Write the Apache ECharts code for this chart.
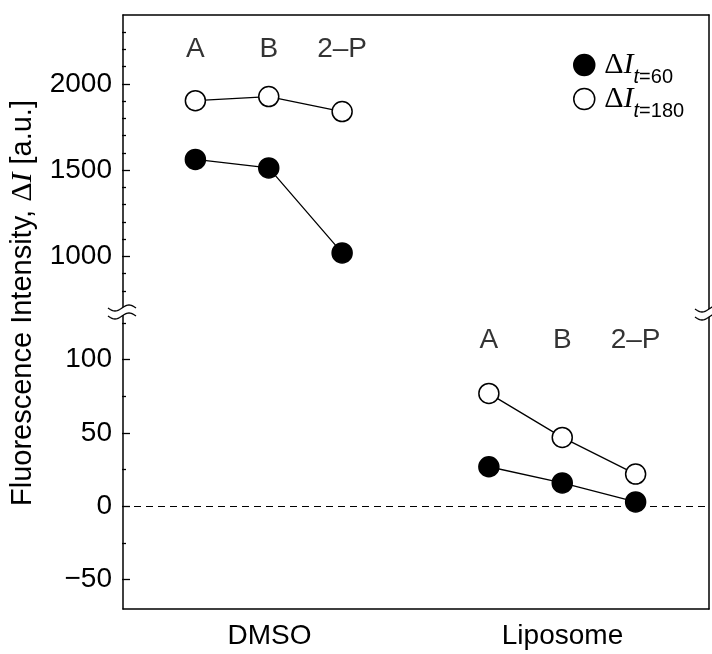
<!DOCTYPE html>
<html><head><meta charset="utf-8">
<script src="https://cdn.jsdelivr.net/npm/echarts@6/dist/echarts.min.js"></script>
<style>html,body{margin:0;padding:0;background:#fff}#c{width:712px;height:654px}</style>
</head><body><div id="c"></div>
<script>
// ---- data ----
const groups = ['DMSO', 'Liposome'];
const groupX = [2, 6];
const compounds = ['A', 'B', '2–P'];
const dmsoX = [1, 2, 3];
const lipoX = [5, 6, 7];
const dmsoT60 = [1562, 1513, 1020];
const dmsoT180 = [1903, 1927, 1840];
const lipoT60 = [27, 16, 3];
const lipoT180 = [77, 47, 22];
const upperMajor = [1000, 1500, 2000];
const upperMinor = [800, 900, 1100, 1200, 1300, 1400, 1600, 1700, 1800, 1900, 2100, 2200, 2300];
const lowerMajor = [-50, 0, 50, 100];
const lowerMinor = [-25, 25, 75, 125];
const upperLabelY = 2200;
const lowerLabelY = 113;

// ---- layout ----
const W = 712, H = 654;
const L = 122, Rx = 709, T = 15, Bt = 609;
const upMin = 680, upMax = 2400, loMin = -70, loMax = 130;
const upBottom = 311.5, loTop = 315.7;
const FS = 28;
const FONT = 'Liberation Sans';

const pair = (xs, ys) => xs.map((x, i) => [x, ys[i]]);
const lab = (xs, y) => xs.map((x, i) => ({ value: [x, y], name: compounds[i] }));

const chart = echarts.init(document.getElementById('c'), null, { renderer: 'canvas' });

const blackLine = { show: true, onZero: false, lineStyle: { color: '#000', width: 1.5 } };
const noLine = { show: false, onZero: false };

function hiddenX(gi) {
  return { type: 'value', gridIndex: gi, min: 0, max: 8, show: false, splitLine: { show: false } };
}
function tickAxis(gi, min, max, vals, len, showLabel) {
  return {
    type: 'value', gridIndex: gi, min: min, max: max, position: 'left',
    axisLine: noLine, splitLine: { show: false },
    axisTick: { show: true, inside: true, length: len, customValues: vals, lineStyle: { color: '#000', width: 1.3 } },
    axisLabel: showLabel ? { show: true, customValues: vals, fontSize: FS, fontFamily: FONT, color: '#000', margin: 10,
      formatter: v => (v < 0 ? '\u2212' + Math.abs(v) : String(v)) } : { show: false }
  };
}

function wave(cx, cy) {
  const pts = [];
  for (let i = 0; i <= 24; i++) {
    const t = -1 + 2 * i / 24;
    pts.push([cx + 14 * t, cy - 3 * Math.sin(Math.PI * t)]);
  }
  return pts;
}
function breakMark(cx, cy) {
  const a = wave(cx, cy - 4), b = wave(cx, cy + 4);
  return [
    { type: 'polygon', z: 100, shape: { points: a.concat(b.slice().reverse()) }, style: { fill: '#fff', stroke: null } },
    { type: 'polyline', z: 101, shape: { points: a }, style: { stroke: '#000', lineWidth: 1.4, fill: null } },
    { type: 'polyline', z: 101, shape: { points: b }, style: { stroke: '#000', lineWidth: 1.4, fill: null } }
  ];
}

const filled = { color: '#000', borderColor: '#000', borderWidth: 1.5 };
const open = { color: '#fff', borderColor: '#000', borderWidth: 1.5 };
const lineSt = { color: '#000', width: 1.3 };

function dataSeries(name, xi, yi, data, style) {
  return { name: name, type: 'line', xAxisIndex: xi, yAxisIndex: yi, data: data,
    symbol: 'circle', symbolSize: 20, itemStyle: style, lineStyle: lineSt, z: 5, silent: true, animation: false };
}
function labelSeries(xi, yi, data) {
  return { type: 'scatter', xAxisIndex: xi, yAxisIndex: yi, data: data, symbolSize: 1,
    itemStyle: { color: 'rgba(0,0,0,0)' }, silent: true, animation: false,
    label: { show: true, position: 'inside', formatter: '{b}', fontSize: FS, fontFamily: FONT, color: '#000' } };
}

const legRich = {
  d: { fontFamily: 'Liberation Serif', fontSize: 30, lineHeight: 21, color: '#000' },
  i: { fontFamily: 'Liberation Serif', fontStyle: 'italic', fontSize: 30, lineHeight: 21, color: '#000' },
  s: { fontFamily: FONT, fontStyle: 'italic', fontSize: 20, lineHeight: 21, color: '#000', padding: [24, 0, 0, 0] },
  n: { fontFamily: FONT, fontSize: 20, lineHeight: 21, color: '#000', padding: [24, 0, 0, 0] }
};
const legFmt = name => name === 't60' ? '{d|Δ}{i|I}{s|t}{n|=60}' : '{d|Δ}{i|I}{s|t}{n|=180}';
function legend(name, style, top) {
  return { data: [{ name: name, icon: 'circle', itemStyle: style }], left: 573, top: top, orient: 'vertical',
    itemWidth: 30, itemHeight: 21, itemGap: 0, padding: 0, selectedMode: false, formatter: legFmt,
    textStyle: { rich: legRich, padding: [0, 0, 0, 0] } };
}

const option = {
  backgroundColor: '#fff',
  animation: false,
  grid: [
    { left: L, right: W - Rx, top: T, bottom: H - Bt },
    { left: L, right: W - Rx, top: T, bottom: H - upBottom },
    { left: L, right: W - Rx, top: loTop, bottom: H - Bt }
  ],
  xAxis: [
    { type: 'value', gridIndex: 0, min: 0, max: 8, position: 'bottom', axisLine: blackLine, splitLine: { show: false },
      axisTick: { show: false },
      axisLabel: { show: true, customValues: groupX, margin: 13, fontSize: FS, fontFamily: FONT, color: '#000',
        formatter: v => groups[groupX.indexOf(v)] || '' } },
    { type: 'value', gridIndex: 0, min: 0, max: 8, position: 'top', axisLine: blackLine, splitLine: { show: false },
      axisTick: { show: false }, axisLabel: { show: false } },
    hiddenX(1), hiddenX(2)
  ],
  yAxis: [
    { type: 'value', gridIndex: 0, min: 0, max: 1, position: 'left', axisLine: blackLine, splitLine: { show: false },
      axisTick: { show: false }, axisLabel: { show: false },
      name: 'Fluorescence Intensity, {d|Δ}{i|I} [a.u.]', nameLocation: 'middle', nameGap: 85, nameRotate: 90,
      nameTextStyle: { fontSize: 29, fontFamily: FONT, color: '#000', padding: [0, 0, 0, 18],
        rich: { d: { fontFamily: 'Liberation Serif', fontSize: 30, color: '#000' },
                i: { fontFamily: 'Liberation Serif', fontStyle: 'italic', fontSize: 30, color: '#000' } } } },
    { type: 'value', gridIndex: 0, min: 0, max: 1, position: 'right', axisLine: blackLine, splitLine: { show: false },
      axisTick: { show: false }, axisLabel: { show: false } },
    tickAxis(1, upMin, upMax, upperMajor, 8, true),
    tickAxis(1, upMin, upMax, upperMinor, 4, false),
    tickAxis(2, loMin, loMax, lowerMajor, 8, true),
    tickAxis(2, loMin, loMax, lowerMinor, 4, false)
  ],
  legend: [legend('t60', filled, 43), legend('t180', open, 77)],
  series: [
    dataSeries('t180', 2, 2, pair(dmsoX, dmsoT180), open),
    dataSeries('t60', 2, 2, pair(dmsoX, dmsoT60), filled),
    dataSeries('t180', 3, 4, pair(lipoX, lipoT180), open),
    Object.assign(dataSeries('t60', 3, 4, pair(lipoX, lipoT60), filled), {
      markLine: { silent: true, symbol: 'none', label: { show: false }, z: 1,
        lineStyle: { color: '#000', width: 1.2, type: [7, 5] }, data: [{ yAxis: 0 }] } }),
    labelSeries(2, 2, lab(dmsoX, upperLabelY)),
    labelSeries(3, 4, lab(lipoX, lowerLabelY))
  ],
  graphic: breakMark(L, 312).concat(breakMark(Rx, 313))
};
chart.setOption(option);
</script>
</body></html>
